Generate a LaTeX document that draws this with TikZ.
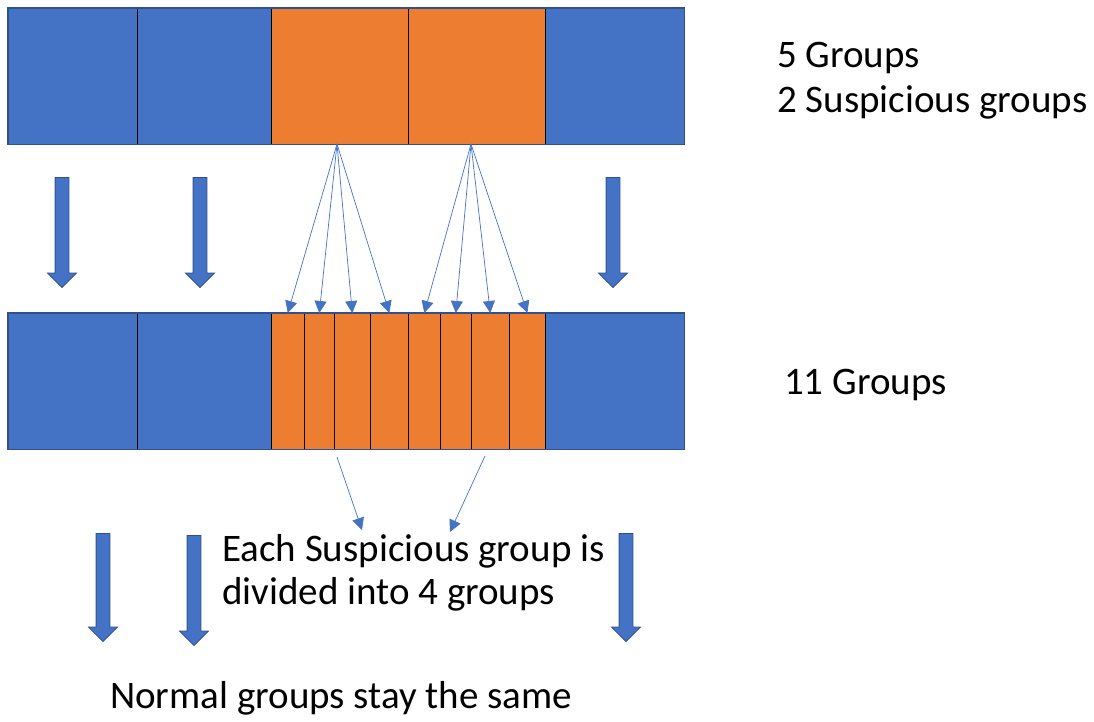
\documentclass[tikz,border=0pt]{standalone}
\usepackage{fontspec}
\setmainfont{Carlito}
\usetikzlibrary{arrows.meta,shapes.arrows,positioning}
\definecolor{boxblue}{HTML}{4472C4}
\definecolor{boxorange}{HTML}{ED7D31}
\definecolor{edgeblue}{HTML}{2F528F}

\begin{document}
\begin{tikzpicture}[x=1pt,y=-1pt,
        normal cell/.style={fill=boxblue,draw=black,line width=0.6pt,
            minimum height=136pt,inner sep=0pt,anchor=north west},
        sus cell/.style={normal cell,fill=boxorange},
        fan/.style={draw=boxblue,line width=0.7pt,-{Triangle[length=12pt,width=12pt]}},
        down arrow/.style={single arrow,draw=edgeblue,fill=boxblue,line width=0.8pt,
            text width=13pt,minimum width=28pt,single arrow head extend=7.5pt,
            inner sep=0pt,shape border rotate=270},
        txt/.style={font=\fontsize{39}{47}\selectfont,anchor=base west,inner sep=0pt}]

        \useasboundingbox (0,0) rectangle (1094,722);

        % Top row: 5 groups
        \node[normal cell,minimum width=129pt] (t1) at (8,8) {};
        \node[normal cell,minimum width=134pt] (t2) at (137,8) {};
        \node[sus cell,minimum width=137pt] (t3) at (271,8) {};
        \node[sus cell,minimum width=137pt] (t4) at (408,8) {};
        \node[normal cell,minimum width=139pt] (t5) at (545,8) {};
        \draw[edgeblue,line width=1.2pt] (t1.north west) rectangle (t5.south east);

        % Bottom row: 11 groups
        \node[normal cell,minimum width=129pt] (b1) at (8,313) {};
        \node[normal cell,minimum width=134pt] (b2) at (137,313) {};
        \node[sus cell,minimum width=33pt] (s1) at (271,313) {};
        \node[sus cell,minimum width=30pt] (s2) at (304,313) {};
        \node[sus cell,minimum width=36pt] (s3) at (334,313) {};
        \node[sus cell,minimum width=38pt] (s4) at (370,313) {};
        \node[sus cell,minimum width=32pt] (s5) at (408,313) {};
        \node[sus cell,minimum width=31pt] (s6) at (440,313) {};
        \node[sus cell,minimum width=38pt] (s7) at (471,313) {};
        \node[sus cell,minimum width=36pt] (s8) at (509,313) {};
        \node[normal cell,minimum width=139pt] (b3) at (545,313) {};
        \draw[edgeblue,line width=1.2pt] (b1.north west) rectangle (b3.south east);

        % Block arrows
        \node[down arrow,minimum height=110pt] (a1) at (62,229) {};
        \node[down arrow,minimum height=110pt] (a2) at (200,229) {};
        \node[down arrow,minimum height=110pt] (a3) at (613,229) {};
        \node[down arrow,minimum height=108pt] (a4) at (103,584) {};
        \node[down arrow,minimum height=110pt] (a5) at (194,587) {};
        \node[down arrow,minimum height=108pt] (a6) at (626,584) {};

        % Labels
        \node[txt] (l1) at (777,68) {5 Groups};
        \node[txt] (l2) at (777,113) {2 Suspicious groups};
        \node[txt] (l3) at (784,394) {11 Groups};
        \node[txt] (n1) at (222,561) {Each Suspicious group is};
        \node[txt] (n2) at (222,604) {divided into 4 groups};
        \node[txt] (n3) at (110,708) {Normal groups stay the same};

        % Split arrows
        \coordinate (f1) at (337,144);
        \coordinate (f2) at (471,144);
        \foreach \s in {s1,s2,s3,s4}
            \draw[fan] (f1) -- (\s.north);
        \foreach \s in {s5,s6,s7,s8}
            \draw[fan] (f2) -- (\s.north);

        \coordinate (d1) at (337,457);
        \coordinate (e1) at (362,530);
        \coordinate (d2) at (485,456);
        \coordinate (e2) at (450,532);
        \draw[fan] (d1) -- (e1);
        \draw[fan] (d2) -- (e2);

\end{tikzpicture}
\end{document}
